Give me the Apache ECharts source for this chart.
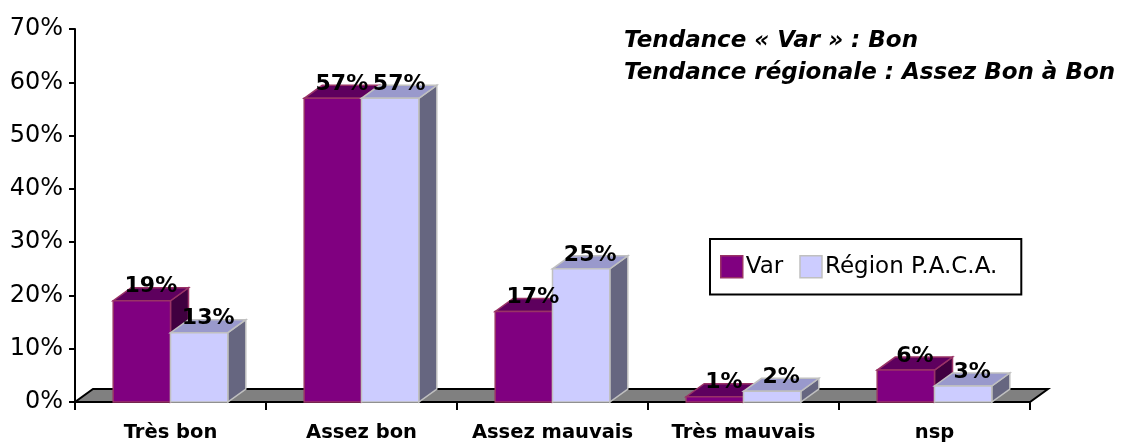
<!DOCTYPE html>
<html><head><meta charset="utf-8">
<script src="https://cdn.jsdelivr.net/npm/echarts@6/dist/echarts.min.js"></script>
<style>html,body{margin:0;padding:0;background:#fff}#c{width:1131px;height:446px}</style>
</head><body><div id="c"></div>
<script>
const categories = ['Très bon', 'Assez bon', 'Assez mauvais', 'Très mauvais', 'nsp'];
const varValues = [19, 57, 17, 1, 6];
const regionValues = [13, 57, 25, 2, 3];
const yTicks = [0, 10, 20, 30, 40, 50, 60, 70];
const seriesNames = ['Var', 'Région P.A.C.A.'];
const titleLines = ['Tendance « Var » : Bon', 'Tendance régionale : Assez Bon à Bon'];

const DX = 18, DY = 13;
const styles = [
  {front: '#800080', top: '#5e005e', side: '#400040', stroke: '#993366'},
  {front: '#ccccff', top: '#9999cc', side: '#666680', stroke: '#c0c0c0'}
];
const FONT = '"DejaVu Sans", sans-serif';

function barRender(si) {
  const s = styles[si];
  return function (params, api) {
    const i = api.value(0), v = api.value(1);
    const base = api.coord([i, 0]);
    const top = api.coord([i, v]);
    const bw = api.size([1, 0])[0] * 0.3;
    const x0 = base[0] + (si === 0 ? -bw : 0);
    const x1 = x0 + bw;
    const yb = base[1], yt = top[1];
    const lw = 1.5;
    return {
      type: 'group',
      children: [
        {type: 'polygon', shape: {points: [[x1, yt], [x1 + DX, yt - DY], [x1 + DX, yb - DY], [x1, yb]]},
          style: {fill: s.side, stroke: s.stroke, lineWidth: lw}},
        {type: 'polygon', shape: {points: [[x0, yt], [x1, yt], [x1 + DX, yt - DY], [x0 + DX, yt - DY]]},
          style: {fill: s.top, stroke: s.stroke, lineWidth: lw}},
        {type: 'rect', shape: {x: x0, y: yt, width: bw, height: yb - yt},
          style: {fill: s.front, stroke: s.stroke, lineWidth: lw}}
      ]
    };
  };
}

function floorRender(params, api) {
  const cs = params.coordSys;
  const yb = cs.y + cs.height, xl = cs.x, xr = cs.x + cs.width;
  return {
    type: 'polygon',
    shape: {points: [[xl, yb], [xr, yb], [xr + DX, yb - DY], [xl + DX, yb - DY]]},
    style: {fill: '#808080', stroke: '#000', lineWidth: 2}
  };
}

function labelRender(params, api) {
  const i = api.value(0);
  const vals = [api.value(1), api.value(2)];
  const bw = api.size([1, 0])[0] * 0.3;
  const children = vals.map(function (v, si) {
    const p = api.coord([i, v]);
    const cx = p[0] + (si === 0 ? -bw / 2 : bw / 2) + 9;
    return {
      type: 'text',
      style: {text: v + '%', x: cx, y: p[1] - 14, align: 'center', verticalAlign: 'middle',
        fill: '#000', font: 'bold 22px ' + FONT}
    };
  });
  return {type: 'group', children: children};
}

const chart = echarts.init(document.getElementById('c'), null, {renderer: 'canvas'});
chart.setOption({
  animation: false,
  backgroundColor: '#fff',
  title: {
    text: titleLines.join('\n'),
    left: 624, top: 25, padding: 0,
    textStyle: {fontFamily: FONT, fontWeight: 'bold', fontStyle: 'italic', fontSize: 23, lineHeight: 32, color: '#000'}
  },
  legend: {
    left: 710, top: 239,
    padding: [16, 24, 16, 10],
    borderColor: '#000', borderWidth: 2,
    itemWidth: 22, itemHeight: 22, itemGap: 16,
    icon: 'rect',
    textStyle: {fontFamily: FONT, fontSize: 23, color: '#000', padding: [0, 0, 0, -2]},
    data: [
      {name: seriesNames[0], itemStyle: {color: styles[0].front, borderColor: styles[0].stroke, borderWidth: 1.5}},
      {name: seriesNames[1], itemStyle: {color: styles[1].front, borderColor: styles[1].stroke, borderWidth: 1.5}}
    ]
  },
  grid: {left: 75, right: 101, top: 29, bottom: 44, containLabel: false},
  xAxis: {
    type: 'category', data: categories,
    axisLine: {lineStyle: {color: '#000', width: 2}},
    axisTick: {show: true, interval: 0, length: 8, lineStyle: {color: '#000', width: 2}},
    axisLabel: {interval: 0, fontFamily: FONT, fontWeight: 'bold', fontSize: 19.5, color: '#000', margin: 21}
  },
  yAxis: {
    type: 'value', min: yTicks[0], max: yTicks[yTicks.length - 1], interval: 10,
    axisLine: {show: true, lineStyle: {color: '#000', width: 2}},
    axisTick: {show: true, length: 6, lineStyle: {color: '#000', width: 2}},
    splitLine: {show: false},
    axisLabel: {formatter: '{value}%', fontFamily: FONT, fontSize: 24, color: '#000', margin: 12}
  },
  series: [
    {type: 'custom', name: 'floor', z: 1, silent: true, renderItem: floorRender, data: [[0, 0]], encode: {x: 0, y: 1}},
    {type: 'custom', name: seriesNames[0], z: 2, renderItem: barRender(0),
      itemStyle: {color: styles[0].front}, encode: {x: 0, y: 1},
      data: varValues.map(function (v, i) { return [i, v]; })},
    {type: 'custom', name: seriesNames[1], z: 3, renderItem: barRender(1),
      itemStyle: {color: styles[1].front}, encode: {x: 0, y: 1},
      data: regionValues.map(function (v, i) { return [i, v]; })},
    {type: 'custom', name: 'labels', z: 4, silent: true, renderItem: labelRender, encode: {x: 0, y: 1},
      data: categories.map(function (c, i) { return [i, varValues[i], regionValues[i]]; })}
  ]
});
</script>
</body></html>
